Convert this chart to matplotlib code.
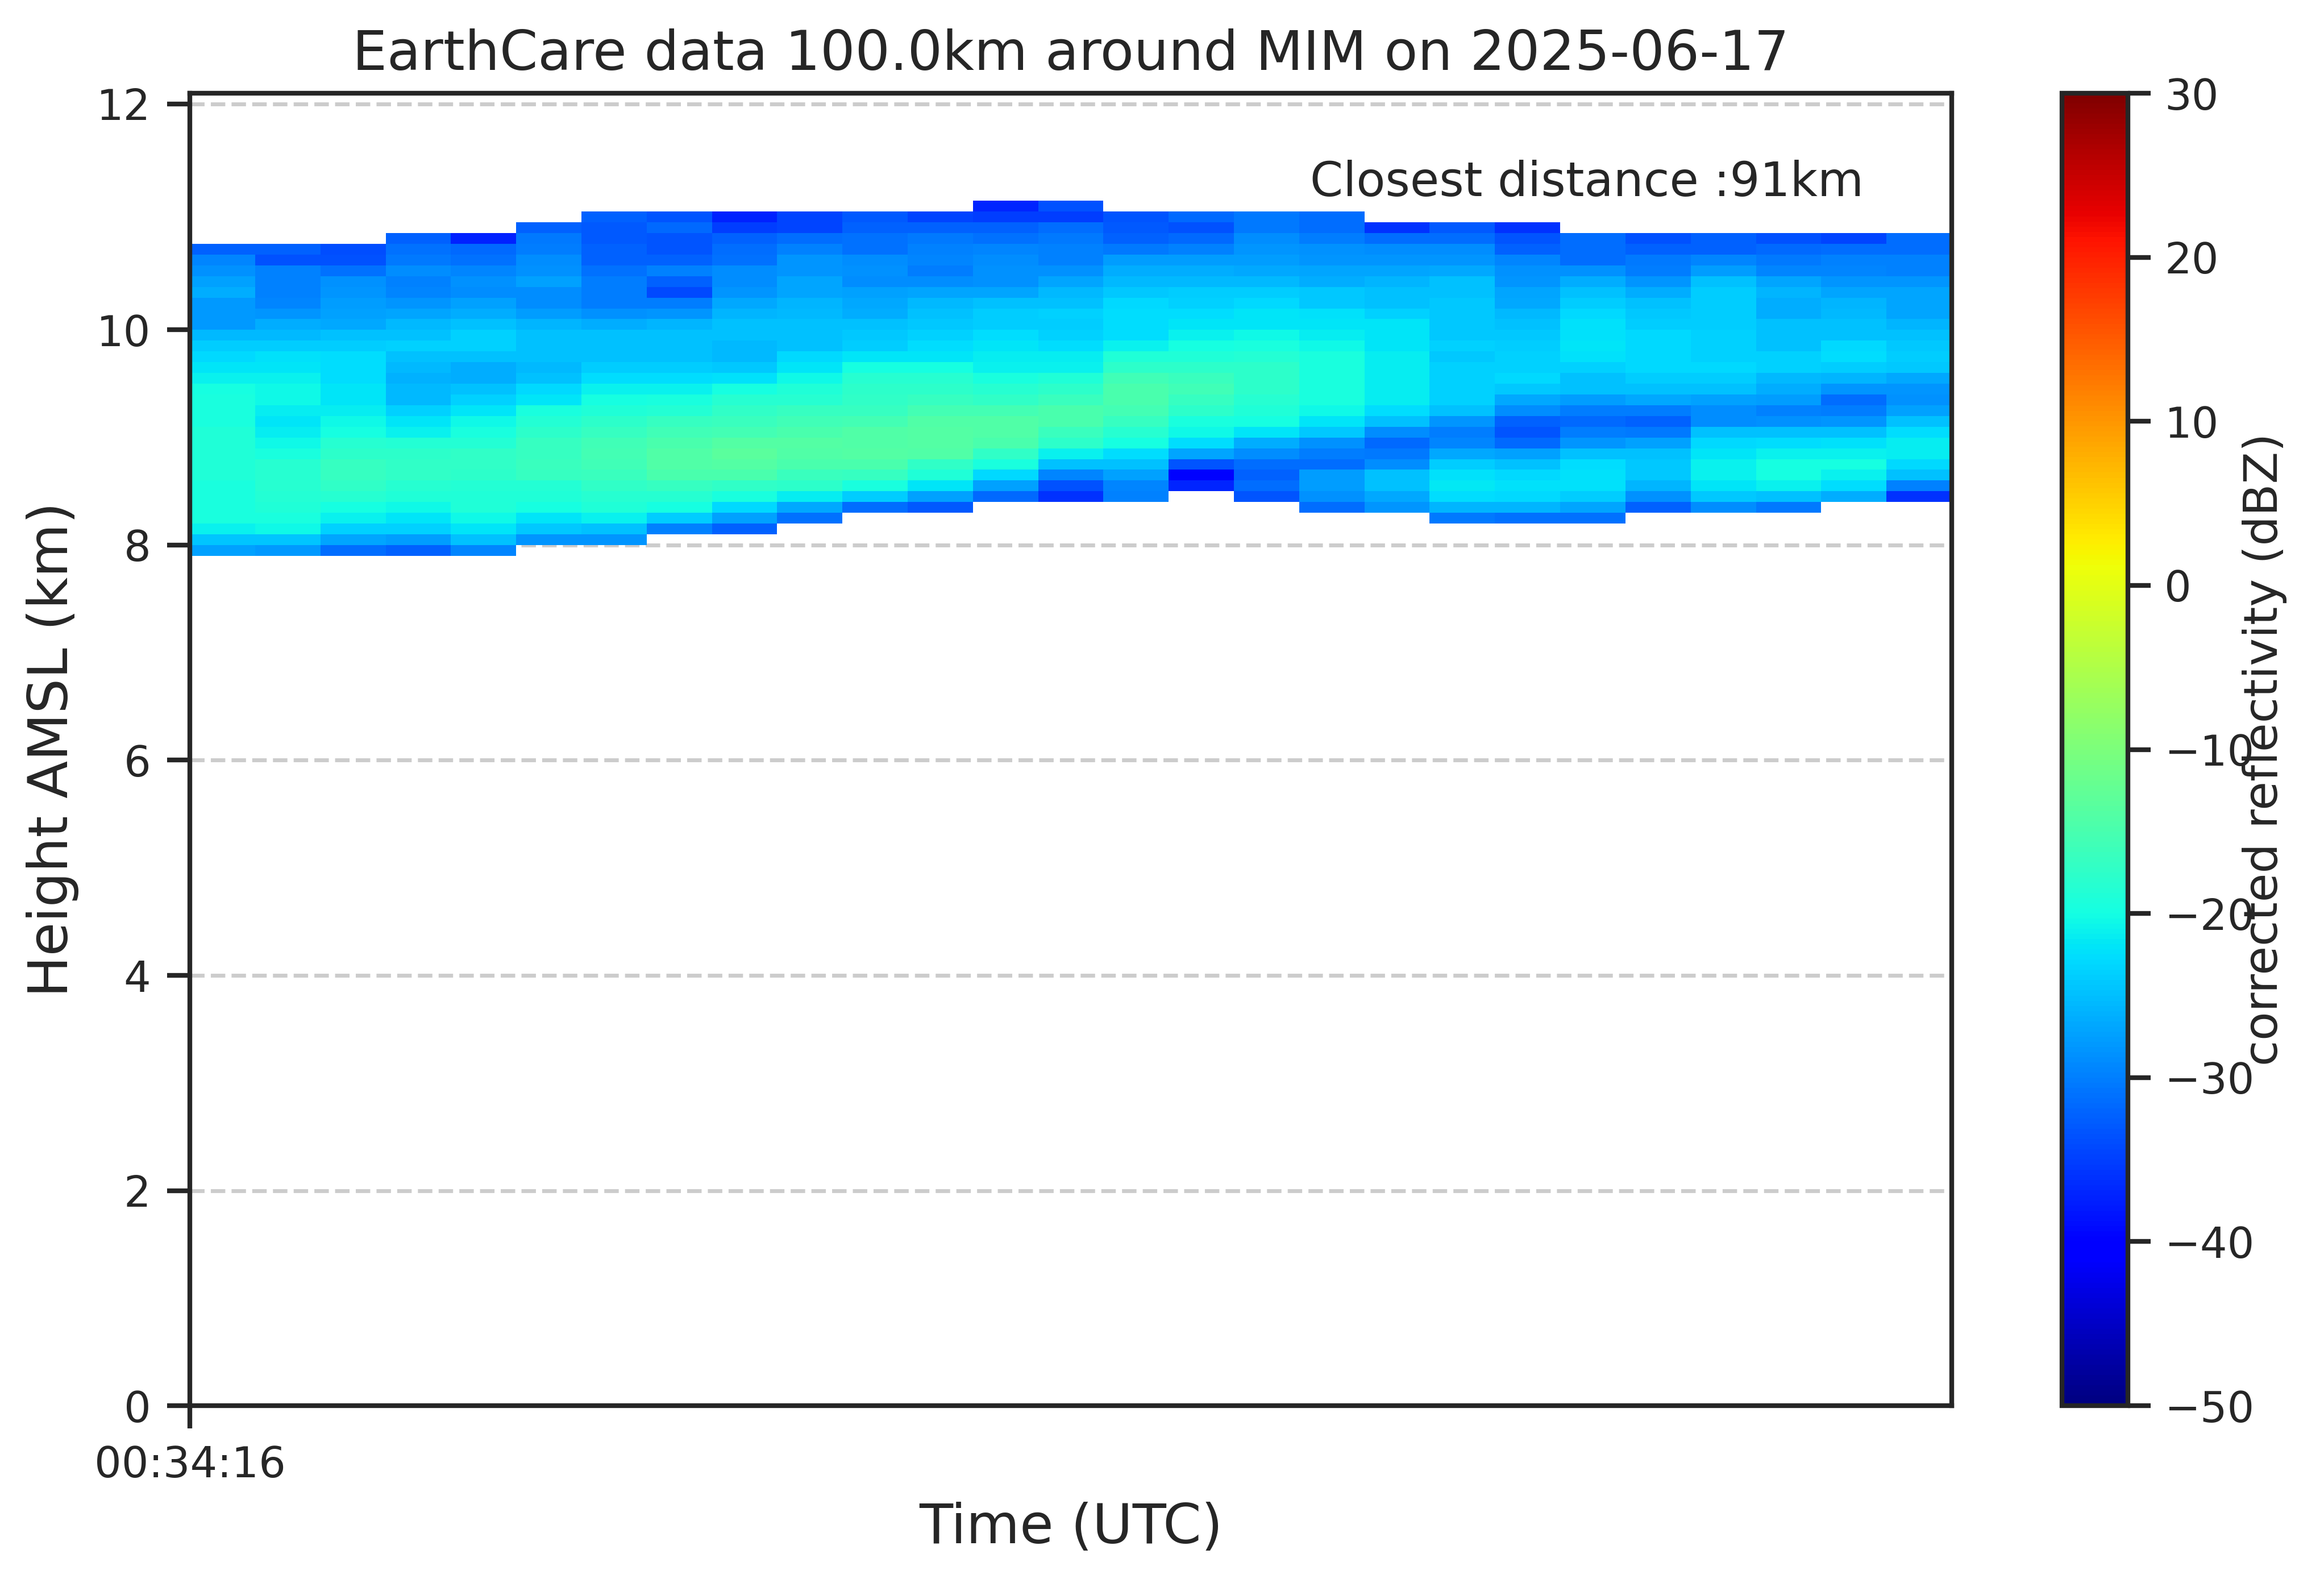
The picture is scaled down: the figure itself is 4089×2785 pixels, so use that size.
from datetime import datetime
import numpy as np
import matplotlib
matplotlib.use("Agg")
import matplotlib.pyplot as plt
import matplotlib.dates as mdates
import seaborn as sns

sns.set_theme(style="ticks", context="talk")
plt.rcParams['font.family'] = ['DejaVu Sans']

# --- data ------------------------------------------------------------------
site = "MIM"
date_str = "2025-06-17"
radius_km = 100.0
closest_km = 91

profile_times = [
    "00:34:16.0", "00:34:16.5", "00:34:17.0", "00:34:17.5", "00:34:18.0",
    "00:34:18.5", "00:34:19.0", "00:34:19.5", "00:34:20.0", "00:34:20.5",
    "00:34:21.0", "00:34:21.5", "00:34:22.0", "00:34:22.5", "00:34:23.0",
    "00:34:23.5", "00:34:24.0", "00:34:24.5", "00:34:25.0", "00:34:25.5",
    "00:34:26.0", "00:34:26.5", "00:34:27.0", "00:34:27.5", "00:34:28.0",
    "00:34:28.5", "00:34:29.0",
]
end_time = "00:34:29.5"

# range gate edges (km AMSL)
height_edges = [7.9, 8.0, 8.1, 8.2, 8.3, 8.4, 8.5, 8.6, 8.7, 8.8, 8.9,
                9.0, 9.1, 9.2, 9.3, 9.4, 9.5, 9.6, 9.7, 9.8, 9.9,
                10.0, 10.1, 10.2, 10.3, 10.4, 10.5, 10.6, 10.7, 10.8, 10.9,
                11.0, 11.1, 11.2]

# top of the echo in every profile (km)
profile_tops = [10.8, 10.8, 10.8, 10.9, 10.9, 11.0, 11.1, 11.1, 11.1, 11.1,
                11.1, 11.1, 11.2, 11.2, 11.1, 11.1, 11.1, 11.1, 11.0, 11.0,
                11.0, 10.9, 10.9, 10.9, 10.9, 10.9, 10.9]

# reflectivity (dBZ) per profile, from the top gate downwards
prof_00 = [-32.5, -29.5, -28.5, -27.5, -26.5, -28.0, -28.0, -28.0, -25.5, -24.0, -23.0, -22.0, -21.0, -20.0,
           -19.5, -19.5, -19.5, -19.0, -19.0, -19.0, -19.0, -19.0, -19.5, -19.5, -19.5, -19.5, -21.0, -24.5, -27.5]
prof_01 = [-32.5, -33.7, -30.0, -30.0, -30.0, -29.5, -28.2, -26.3, -25.5, -24.0, -22.5, -22.0, -21.0, -20.5,
           -20.5, -21.5, -22.0, -21.5, -20.5, -19.5, -18.2, -18.2, -18.3, -18.7, -19.0, -19.5, -20.5, -24.5, -28.0]
prof_02 = [-34.0, -33.5, -31.0, -28.5, -28.2, -27.8, -27.5, -26.7, -25.0, -24.0, -22.8, -22.8, -22.8, -22.0,
           -22.0, -21.3, -20.5, -20.0, -18.2, -17.8, -16.8, -16.8, -17.2, -18.2, -20.0, -21.0, -23.5, -27.0, -31.4]
prof_03 = [-32.5, -31.0, -30.6, -29.0, -30.0, -29.4, -28.2, -27.0, -25.5, -24.7, -23.5, -24.7, -25.5, -26.0, -25.5,
           -25.5, -23.5, -22.0, -21.0, -18.7, -17.8, -17.4, -17.4, -18.3, -19.0, -20.5, -22.0, -23.5, -27.8, -32.5]
prof_04 = [-37.3, -31.8, -31.0, -29.4, -28.6, -29.0, -27.5, -26.3, -24.7, -23.5, -23.5, -25.0, -26.3, -26.3, -24.7,
           -23.5, -22.0, -20.5, -19.5, -18.7, -17.4, -17.4, -17.8, -18.7, -19.0, -19.0, -20.5, -22.0, -25.0, -29.4]
prof_05 = [-32.2, -30.6, -30.2, -29.0, -28.6, -27.5, -29.0, -29.0, -27.8, -25.9, -24.7, -24.7, -24.7, -25.5, -25.0,
           -23.1, -22.0, -19.5, -18.7, -17.8, -16.8, -16.8, -16.4, -16.8, -18.7, -19.0, -20.0, -22.0, -24.3, -28.2]
prof_06 = [-32.2, -33.0, -33.0, -32.2, -32.2, -31.0, -30.2, -30.2, -30.2, -28.6, -26.3, -25.0, -25.0, -25.0, -23.9,
           -22.7, -21.0, -20.0, -19.0, -17.8, -16.8, -15.8, -15.4, -15.8, -16.3, -17.3, -18.2, -19.0, -21.0, -24.7, -28.2]
prof_07 = [-33.4, -31.8, -33.4, -33.4, -32.5, -29.8, -32.2, -34.1, -30.2, -28.2, -25.9, -25.0, -25.0, -25.0, -23.9,
           -22.7, -21.0, -19.5, -18.7, -16.8, -15.8, -14.8, -14.3, -14.3, -14.8, -16.8, -18.2, -20.0, -23.9, -29.8]
prof_08 = [-37.3, -35.3, -32.5, -31.4, -31.0, -29.0, -29.0, -28.2, -26.7, -25.9, -25.0, -25.0, -25.5, -25.5, -24.3,
           -22.5, -20.0, -18.2, -17.3, -16.3, -15.4, -13.8, -13.4, -13.8, -14.8, -17.3, -19.5, -23.1, -27.5, -32.2]
prof_09 = [-34.5, -34.5, -31.4, -29.8, -28.2, -28.2, -27.0, -27.0, -25.9, -25.5, -25.0, -25.0, -24.7, -23.1, -22.0,
           -20.5, -19.0, -18.2, -16.8, -15.8, -14.8, -13.8, -14.3, -14.8, -16.3, -17.8, -21.5, -26.7, -31.0]
prof_10 = [-33.0, -32.2, -31.0, -31.0, -29.0, -28.6, -29.0, -27.5, -26.7, -26.3, -24.7, -24.3, -23.9, -22.0, -20.0,
           -18.2, -17.8, -17.3, -16.8, -15.4, -14.3, -14.3, -13.8, -14.8, -16.8, -19.5, -23.9, -31.4]
prof_11 = [-34.5, -32.2, -30.6, -29.8, -29.4, -30.2, -29.0, -27.0, -25.5, -24.7, -24.3, -23.5, -22.7, -22.0, -20.0,
           -18.2, -17.8, -16.8, -15.4, -14.3, -13.8, -13.8, -14.3, -17.3, -19.0, -22.0, -27.5, -33.0]
prof_12 = [-36.9, -35.3, -32.2, -31.0, -29.4, -29.0, -28.6, -28.6, -27.0, -24.7, -23.9, -23.9, -22.7, -22.0, -21.5,
           -21.0, -19.5, -18.2, -17.3, -15.4, -14.3, -14.3, -14.8, -17.3, -19.5, -23.1, -27.5, -31.8]
prof_13 = [-33.7, -35.3, -31.4, -30.6, -29.8, -29.8, -28.6, -27.0, -25.5, -24.7, -23.5, -23.9, -23.5, -22.7, -21.5,
           -21.0, -19.0, -17.8, -16.3, -14.8, -14.8, -16.3, -17.8, -21.0, -24.7, -29.4, -33.7, -36.0]
prof_14 = [-33.4, -33.0, -32.2, -30.6, -27.8, -26.3, -25.5, -24.3, -23.1, -22.7, -22.7, -22.7, -21.0, -19.0, -17.8,
           -15.8, -14.8, -14.8, -15.4, -16.8, -18.2, -20.0, -22.7, -25.0, -27.5, -29.4, -29.8]
prof_15 = [-31.8, -33.7, -31.8, -29.8, -27.8, -26.3, -25.5, -23.9, -23.5, -22.7, -22.0, -21.0, -20.0, -19.0, -17.8,
           -16.3, -15.8, -16.8, -17.8, -19.5, -20.5, -22.7, -27.0, -33.4, -40.0, -37.0]
prof_16 = [-30.6, -30.6, -29.0, -28.2, -27.8, -26.7, -25.5, -23.9, -23.1, -22.0, -22.0, -20.5, -19.5, -18.7, -17.8,
           -17.8, -17.8, -18.2, -19.0, -20.0, -22.0, -26.3, -29.0, -31.4, -32.2, -31.4, -33.4]
prof_17 = [-31.4, -31.4, -30.2, -28.6, -28.2, -27.0, -26.3, -24.3, -24.3, -22.4, -22.0, -21.5, -20.5, -19.5, -19.5,
           -19.5, -19.5, -19.5, -20.5, -22.0, -24.3, -28.6, -30.2, -31.4, -27.8, -27.8, -28.6, -31.4]
prof_18 = [-36.0, -31.4, -29.0, -28.2, -27.0, -25.9, -25.0, -24.7, -23.5, -22.0, -22.0, -22.0, -21.5, -21.5, -21.5,
           -21.5, -21.5, -22.7, -25.0, -29.0, -31.8, -30.6, -29.0, -24.7, -25.0, -26.7, -28.2]
prof_19 = [-33.0, -31.4, -29.0, -28.2, -26.7, -25.0, -24.7, -24.3, -24.3, -24.3, -24.3, -23.5, -24.3, -23.5, -23.5,
           -23.5, -23.5, -24.7, -28.2, -30.2, -29.4, -26.7, -23.9, -22.4, -21.7, -22.7, -25.9, -30.6]
prof_20 = [-36.0, -33.4, -32.2, -29.4, -28.6, -28.2, -27.0, -26.7, -25.5, -24.7, -24.3, -23.9, -23.5, -23.5, -23.1,
           -24.3, -26.7, -29.0, -32.2, -33.4, -31.8, -27.5, -24.7, -23.1, -22.4, -23.1, -25.9, -31.0]
prof_21 = [-31.4, -31.4, -31.4, -28.6, -26.3, -25.0, -23.9, -23.1, -22.4, -22.4, -22.0, -22.4, -23.5, -24.7, -25.0,
           -27.8, -30.2, -31.8, -30.2, -28.2, -25.0, -22.7, -22.4, -22.4, -23.9, -27.0, -31.0]
prof_22 = [-33.7, -32.2, -30.6, -30.2, -28.2, -26.3, -24.7, -24.3, -23.9, -23.1, -23.1, -23.1, -23.1, -23.9, -24.7,
           -26.7, -30.2, -32.2, -30.6, -27.5, -25.0, -24.3, -24.3, -25.9, -28.6, -32.2]
prof_23 = [-32.5, -32.2, -29.4, -27.8, -24.7, -23.9, -23.9, -23.9, -23.9, -23.5, -23.5, -23.5, -23.1, -24.0, -25.0,
           -27.5, -29.0, -29.0, -25.0, -23.1, -22.0, -21.0, -21.0, -22.0, -24.3, -29.0]
prof_24 = [-33.7, -31.8, -30.6, -29.4, -27.0, -25.9, -26.3, -26.3, -25.0, -25.0, -24.7, -23.5, -23.5, -25.5, -26.3,
           -27.8, -29.8, -28.6, -25.0, -22.7, -21.0, -20.0, -20.0, -21.0, -24.7, -30.6]
prof_25 = [-34.5, -31.4, -29.8, -29.4, -28.2, -27.0, -25.9, -25.5, -25.0, -24.7, -23.1, -22.7, -23.9, -25.9, -28.2,
           -31.4, -30.2, -28.2, -24.7, -22.4, -21.0, -20.0, -21.0, -22.7, -26.3]
prof_26 = [-31.4, -31.4, -29.8, -29.8, -28.2, -27.0, -27.0, -27.0, -25.9, -25.0, -24.3, -23.9, -24.3, -26.7, -28.2,
           -28.6, -27.5, -24.7, -22.7, -21.5, -21.5, -23.1, -24.7, -29.8, -36.0]

profiles = [prof_00, prof_01, prof_02, prof_03, prof_04, prof_05, prof_06, prof_07, prof_08,
            prof_09, prof_10, prof_11, prof_12, prof_13, prof_14, prof_15, prof_16, prof_17,
            prof_18, prof_19, prof_20, prof_21, prof_22, prof_23, prof_24, prof_25, prof_26]

ytick_values = [0, 2, 4, 6, 8, 10, 12.1]
ytick_labels = ["0", "2", "4", "6", "8", "10", "12"]
cbar_ticks = [-50, -40, -30, -20, -10, 0, 10, 20, 30]


def to_datetime(t: str) -> datetime:
    return datetime.strptime(f"{date_str} {t}", "%Y-%m-%d %H:%M:%S.%f")


def build_grid() -> np.ma.MaskedArray:
    edges = np.array(height_edges)
    grid = np.full((len(edges) - 1, len(profiles)), np.nan)
    for j, (top, vals) in enumerate(zip(profile_tops, profiles)):
        top_idx = int(np.argmin(np.abs(edges - top)))
        for k, v in enumerate(vals):
            grid[top_idx - 1 - k, j] = v
    return np.ma.masked_invalid(grid)


# --- plot -------------------------------------------------------------------
text_color = "#262626"
fig = plt.figure(figsize=(4089 / 300, 2785 / 300), dpi=300)
ax = fig.add_axes([0.0817, 0.1120, 0.7581, 0.8291])
cax = fig.add_axes([0.8872, 0.1120, 0.0284, 0.8291])

x_edges = mdates.date2num([to_datetime(t) for t in profile_times + [end_time]])
mesh = ax.pcolormesh(x_edges, height_edges, build_grid(), cmap="jet",
                     vmin=-50, vmax=30, shading="flat")

ax.set_ylim(0, 12.2)
ax.set_yticks(ytick_values, labels=ytick_labels)
ax.set_xticks([x_edges[0]])
ax.xaxis.set_major_formatter(mdates.DateFormatter("%H:%M:%S"))

ax.yaxis.grid(True, linestyle="--", color="#cccccc", linewidth=1.65)
ax.xaxis.grid(False)
ax.set_axisbelow(True)

for spine in ax.spines.values():
    spine.set_linewidth(2.0)
    spine.set_color(text_color)
ax.tick_params(axis="both", labelsize=18, length=9.5, width=2.0, pad=7,
               color=text_color, labelcolor=text_color)

ax.set_title(f"EarthCare data {radius_km}km around {site} on {date_str}",
             fontsize=23.2, color=text_color, pad=10)
ax.set_xlabel("Time (UTC)", fontsize=23.2, color=text_color, labelpad=6.5)
ax.set_ylabel("Height AMSL (km)", fontsize=23.2, color=text_color, labelpad=7.5)
ax.text(0.950, 0.9216, f"Closest distance :{closest_km}km", transform=ax.transAxes,
        ha="right", va="baseline", fontsize=20.0, color=text_color)

cbar = fig.colorbar(mesh, cax=cax)
cbar.set_ticks(cbar_ticks)
cbar.outline.set_linewidth(2.0)
cbar.outline.set_edgecolor(text_color)
cbar.ax.tick_params(labelsize=18, length=9.5, width=2.0, pad=6,
                    color=text_color, labelcolor=text_color)
cbar.set_label("corrected reflectivity (dBZ)", fontsize=19.8, color=text_color)
cbar.ax.yaxis.set_label_coords(2.73, 0.5)

fig.savefig("out.png", dpi=300)
